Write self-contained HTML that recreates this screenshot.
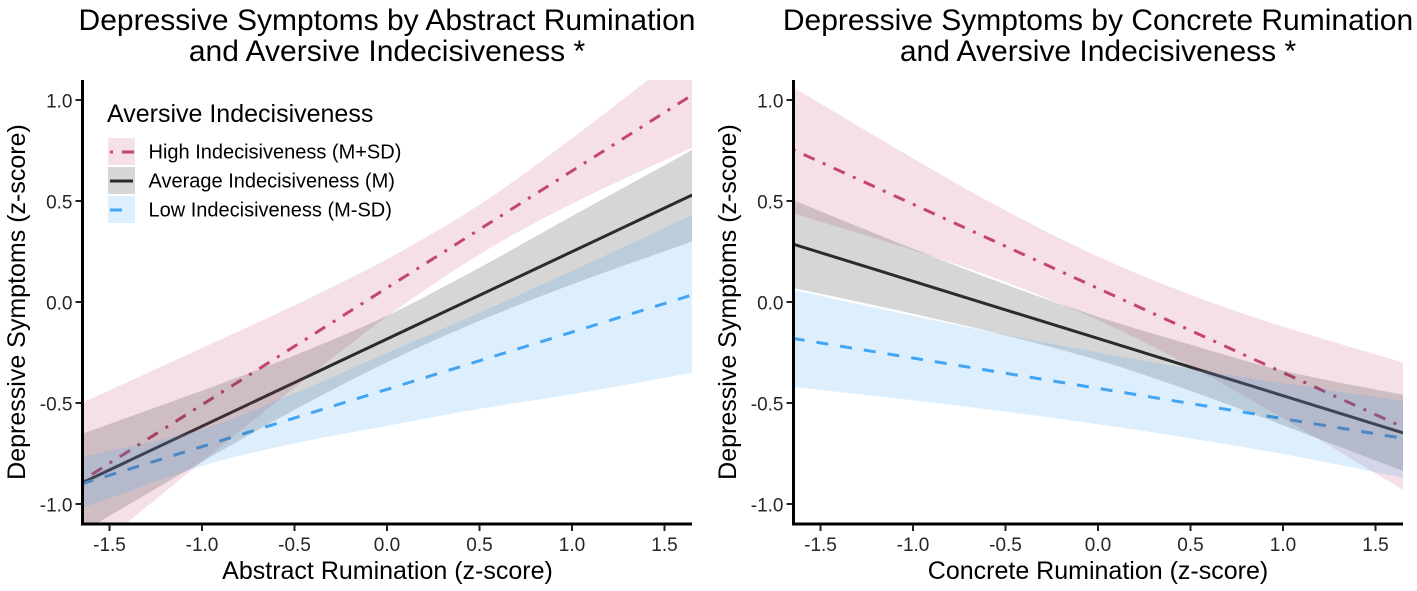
<!DOCTYPE html>
<html lang="en">
<head>
<meta charset="utf-8">
<title>Depressive Symptoms by Rumination and Aversive Indecisiveness</title>
<style>
html,body{margin:0;padding:0;background:#fff;width:1417px;height:591px;overflow:hidden}
svg{display:block;font-family:"Liberation Sans",Arial,sans-serif}
.t{font-size:30px;fill:#000;text-anchor:middle}
.at{font-size:25px;fill:#000;text-anchor:middle}
.tk{font-size:19px;fill:#262626}
.lg{font-size:20px;fill:#000}
</style>
</head>
<body>
<svg id="chart" xmlns="http://www.w3.org/2000/svg" width="1417" height="591" viewBox="0 0 1417 591">
  <defs>
    <clipPath id="clip-left"><rect x="82" y="80" width="610" height="444"/></clipPath>
    <clipPath id="clip-right"><rect x="793" y="80" width="610" height="444"/></clipPath>
  </defs>
  <g id="panel-left">
    <text class="t" x="387" y="30">Depressive Symptoms by Abstract Rumination</text>
    <text class="t" x="387" y="61">and Aversive Indecisiveness *</text>
    <text class="at" x="387.5" y="579">Abstract Rumination (z-score)</text>
    <text class="at" transform="translate(25 302) rotate(-90)">Depressive Symptoms (z-score)</text>
  </g>
  <g id="panel-right">
    <text class="t" x="1098" y="30">Depressive Symptoms by Concrete Rumination</text>
    <text class="t" x="1098" y="61">and Aversive Indecisiveness *</text>
    <text class="at" x="1098" y="579">Concrete Rumination (z-score)</text>
    <text class="at" transform="translate(736 302) rotate(-90)">Depressive Symptoms (z-score)</text>
  </g>
  <g id="legend">
    <text x="107" y="122" style="font-size:25px;fill:#000">Aversive Indecisiveness</text>
    <g>
      <rect x="108" y="138" width="27" height="27" fill="#C4466F" fill-opacity="0.17"/>
      <line x1="110" x2="135" y1="152" y2="152" stroke="#C4466F" stroke-width="3" stroke-dasharray="3 9 12 9"/>
      <text class="lg" x="148.5" y="158.5">High Indecisiveness (M+SD)</text>
    </g>
    <g>
      <rect x="108" y="167" width="27" height="27" fill="#333333" fill-opacity="0.2"/>
      <line x1="110" x2="133" y1="181" y2="181" stroke="#2a2a2a" stroke-width="3"/>
      <text class="lg" x="148.5" y="187.5">Average Indecisiveness (M)</text>
    </g>
    <g>
      <rect x="108" y="196" width="27" height="27" fill="#42A5F5" fill-opacity="0.18"/>
      <line x1="110" x2="133" y1="210" y2="210" stroke="#42A5F5" stroke-width="3" stroke-dasharray="12 12"/>
      <text class="lg" x="148.5" y="216.5">Low Indecisiveness (M-SD)</text>
    </g>
  </g>
</svg>
<script>
var xTicks = [-1.5, -1.0, -0.5, 0.0, 0.5, 1.0, 1.5];
var xTickLabels = ["-1.5", "-1.0", "-0.5", "0.0", "0.5", "1.0", "1.5"];
var yTicks = [-1.0, -0.5, 0.0, 0.5, 1.0];
var yTickLabels = ["-1.0", "-0.5", "0.0", "0.5", "1.0"];
var ribbonX = [-1.65, -1.0, -0.5, 0.0, 0.5, 1.0, 1.65];
var lineX = [-1.65, 1.65];

var abstractHighLine = [-0.885, 1.025];
var abstractAverageLine = [-0.896, 0.53];
var abstractLowLine = [-0.9, 0.035];
var abstractHighUpper = [-0.50, -0.228, -0.016, 0.212, 0.482, 0.81, 1.27];
var abstractHighLower = [-1.277, -0.79, -0.424, -0.072, 0.236, 0.487, 0.765];
var abstractAverageUpper = [-0.653, -0.439, -0.264, -0.068, 0.17, 0.425, 0.753];
var abstractAverageLower = [-1.14, -0.791, -0.534, -0.298, -0.093, 0.087, 0.30];
var abstractLowUpper = [-0.767, -0.63, -0.452, -0.252, -0.053, 0.154, 0.43];
var abstractLowLower = [-1.02, -0.812, -0.70, -0.613, -0.529, -0.457, -0.35];

var concreteHighLine = [0.755, -0.62];
var concreteAverageLine = [0.287, -0.648];
var concreteLowLine = [-0.18, -0.675];
var concreteHighUpper = [1.064, 0.711, 0.453, 0.225, 0.036, -0.122, -0.30];
var concreteHighLower = [0.44, 0.257, 0.099, -0.09, -0.318, -0.576, -0.93];
var concreteAverageUpper = [0.505, 0.264, 0.087, -0.073, -0.211, -0.34, -0.46];
var concreteAverageLower = [0.07, -0.058, -0.165, -0.288, -0.44, -0.61, -0.837];
var concreteLowUpper = [0.06, -0.0685, -0.1625, -0.25, -0.33, -0.4025, -0.49];
var concreteLowLower = [-0.42, -0.4865, -0.5425, -0.605, -0.675, -0.7525, -0.87];

var NS = "http://www.w3.org/2000/svg";
var PINK = "#C4466F", DARK = "#2a2a2a", BLUE = "#42A5F5";

function yScale(v) { return 302 - v * 202; }

function makeXScale(zeroPx) {
  return function (v) { return zeroPx + v * 185; };
}

function drawLine(group, xs, ys, sx, color, dash, clipId, name) {
  var p = document.createElementNS(NS, "polyline");
  var pts = xs.map(function (x, i) { return sx(x).toFixed(2) + "," + yScale(ys[i]).toFixed(2); });
  p.setAttribute("points", pts.join(" "));
  p.setAttribute("fill", "none");
  p.setAttribute("stroke", color);
  p.setAttribute("stroke-width", "3");
  if (dash) p.setAttribute("stroke-dasharray", dash);
  p.setAttribute("clip-path", "url(#" + clipId + ")");
  
  
  group.appendChild(p);
}

function tangents(px, py) {
  var n = px.length, m = [];
  for (var i = 0; i < n; i++) {
    if (i === 0) m.push((py[1] - py[0]) / (px[1] - px[0]));
    else if (i === n - 1) m.push((py[n - 1] - py[n - 2]) / (px[n - 1] - px[n - 2]));
    else m.push((py[i + 1] - py[i - 1]) / (px[i + 1] - px[i - 1]));
  }
  return m;
}

function curveSegments(px, py) {
  var m = tangents(px, py), s = "";
  for (var i = 0; i < px.length - 1; i++) {
    var h = (px[i + 1] - px[i]) / 3;
    s += " C" + (px[i] + h).toFixed(2) + " " + (py[i] + m[i] * h).toFixed(2) +
         " " + (px[i + 1] - h).toFixed(2) + " " + (py[i + 1] - m[i + 1] * h).toFixed(2) +
         " " + px[i + 1].toFixed(2) + " " + py[i + 1].toFixed(2);
  }
  return s;
}

function drawRibbon(group, xs, upper, lower, sx, color, opacity, clipId, name) {
  var px = xs.map(sx);
  var uy = upper.map(yScale);
  var ly = lower.map(yScale);
  var rx = px.slice().reverse();
  var ry = ly.slice().reverse();
  var d = "M" + px[0].toFixed(2) + " " + uy[0].toFixed(2) + curveSegments(px, uy) +
          " L" + rx[0].toFixed(2) + " " + ry[0].toFixed(2) + curveSegments(rx, ry) + " Z";
  var p = document.createElementNS(NS, "path");
  p.setAttribute("d", d);
  p.setAttribute("fill", color);
  p.setAttribute("fill-opacity", opacity);
  p.setAttribute("clip-path", "url(#" + clipId + ")");
  
  
  group.appendChild(p);
}

function drawAxes(group, sx, axisLeft, axisRight, prefix) {
  var yAxis = document.createElementNS(NS, "line");
  yAxis.setAttribute("x1", axisLeft);
  yAxis.setAttribute("x2", axisLeft);
  yAxis.setAttribute("y1", 80);
  yAxis.setAttribute("y2", 525.5);
  yAxis.setAttribute("stroke", "#000");
  yAxis.setAttribute("stroke-width", "3");
  
  
  group.appendChild(yAxis);

  var xAxis = document.createElementNS(NS, "line");
  xAxis.setAttribute("x1", axisLeft - 1.5);
  xAxis.setAttribute("x2", axisRight);
  xAxis.setAttribute("y1", 524);
  xAxis.setAttribute("y2", 524);
  xAxis.setAttribute("stroke", "#000");
  xAxis.setAttribute("stroke-width", "3");
  
  
  group.appendChild(xAxis);

  xTicks.forEach(function (v, i) {
    var t = document.createElementNS(NS, "line");
    t.setAttribute("x1", sx(v));
    t.setAttribute("x2", sx(v));
    t.setAttribute("y1", 525);
    t.setAttribute("y2", 531);
    t.setAttribute("stroke", "#222");
    t.setAttribute("stroke-width", "2");
    
    
    group.appendChild(t);
    var l = document.createElementNS(NS, "text");
    l.setAttribute("class", "tk");
    l.setAttribute("x", sx(v));
    l.setAttribute("y", 551);
    l.setAttribute("text-anchor", "middle");
    
    
    l.textContent = xTickLabels[i];
    group.appendChild(l);
  });

  yTicks.forEach(function (v, i) {
    var t = document.createElementNS(NS, "line");
    t.setAttribute("x1", axisLeft - 7);
    t.setAttribute("x2", axisLeft - 1);
    t.setAttribute("y1", yScale(v));
    t.setAttribute("y2", yScale(v));
    t.setAttribute("stroke", "#222");
    t.setAttribute("stroke-width", "2");
    
    
    group.appendChild(t);
    var l = document.createElementNS(NS, "text");
    l.setAttribute("class", "tk");
    l.setAttribute("x", axisLeft - 10);
    l.setAttribute("y", yScale(v) + 7.5);
    l.setAttribute("text-anchor", "end");
    
    
    l.textContent = yTickLabels[i];
    group.appendChild(l);
  });
}

function drawPanel(groupId, zeroPx, axisLeft, axisRight, clipId, prefix, s) {
  var root = document.getElementById(groupId);
  var sx = makeXScale(zeroPx);
  var g = document.createElementNS(NS, "g");
  
  
  root.insertBefore(g, root.firstChild);
  drawLine(g, lineX, s.highLine, sx, PINK, "3 9 12 9", clipId, prefix + "-line-high");
  drawLine(g, lineX, s.avgLine, sx, DARK, null, clipId, prefix + "-line-average");
  drawLine(g, lineX, s.lowLine, sx, BLUE, "12 12", clipId, prefix + "-line-low");
  drawRibbon(g, ribbonX, s.highUp, s.highLo, sx, PINK, 0.17, clipId, prefix + "-ribbon-high");
  drawRibbon(g, ribbonX, s.avgUp, s.avgLo, sx, "#333333", 0.2, clipId, prefix + "-ribbon-average");
  drawRibbon(g, ribbonX, s.lowUp, s.lowLo, sx, BLUE, 0.18, clipId, prefix + "-ribbon-low");
  drawAxes(g, sx, axisLeft, axisRight, prefix);
}

drawPanel("panel-left", 387, 82.5, 692, "clip-left", "abstract", {
  highLine: abstractHighLine, avgLine: abstractAverageLine, lowLine: abstractLowLine,
  highUp: abstractHighUpper, highLo: abstractHighLower,
  avgUp: abstractAverageUpper, avgLo: abstractAverageLower,
  lowUp: abstractLowUpper, lowLo: abstractLowLower
});
drawPanel("panel-right", 1098, 793.5, 1403, "clip-right", "concrete", {
  highLine: concreteHighLine, avgLine: concreteAverageLine, lowLine: concreteLowLine,
  highUp: concreteHighUpper, highLo: concreteHighLower,
  avgUp: concreteAverageUpper, avgLo: concreteAverageLower,
  lowUp: concreteLowUpper, lowLo: concreteLowLower
});
</script>
</body>
</html>
